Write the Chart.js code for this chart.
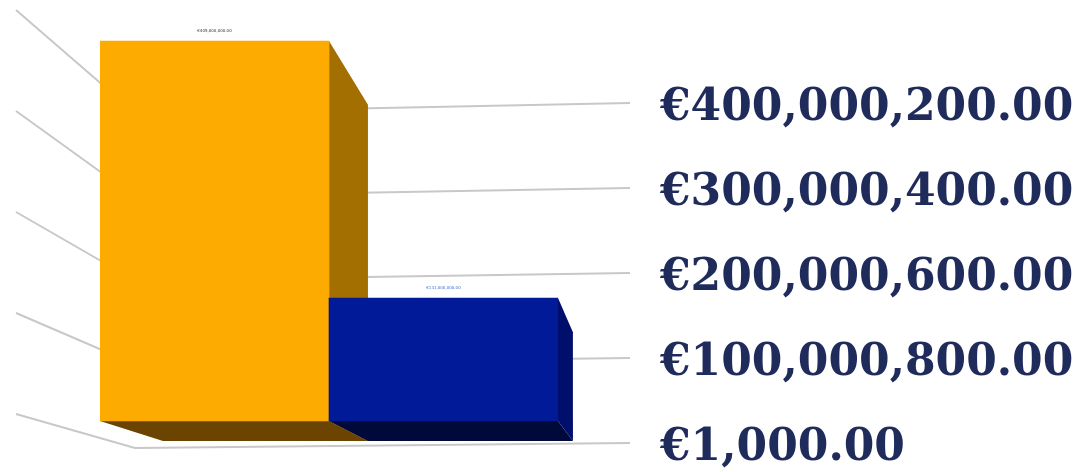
<!DOCTYPE html>
<html>
<head>
<meta charset="utf-8">
<script src="https://cdn.jsdelivr.net/npm/chart.js@4.4.1/dist/chart.umd.min.js"></script>
<style>
	html, body { margin: 0; padding: 0; background: #fff; }
	#wrap { width: 1090px; height: 472px; position: relative; }
</style>
</head>
<body>
<div id="wrap"><canvas id="chart"></canvas></div>
<script>
const categories = [ 'Series 1', 'Series 2' ];
const values = [ 405000000, 131000000 ];
const tickValues = [ 1000, 100000800, 200000600, 300000400, 400000200 ];
const frontColors = [ '#fdab00', '#001a98' ];
const sideColors = [ '#a36f00', '#000f6c' ];
const bottomColors = [ '#6a4400', '#000a3a' ];
const labelColors = [ '#333333', '#3a6fd8' ];

const euro = v => '€' + v.toLocaleString( 'en-US', { minimumFractionDigits: 2, maximumFractionDigits: 2 } );

// depth offset of a point on a bar's front face (perspective look)
const back = ( x, y ) => [ x + 63 - ( x - 100 ) * 0.105, y + 20 + ( 421 - y ) * 0.115 ];

const poly = ( ctx, pts, color ) => {
	ctx.beginPath();
	ctx.moveTo( pts[0][0], pts[0][1] );
	pts.slice( 1 ).forEach( p => ctx.lineTo( p[0], p[1] ) );
	ctx.closePath();
	ctx.fillStyle = color;
	ctx.fill();
};

const depthPlugin = {
	id: 'depth',
	beforeDatasetsDraw( chart ) {
		const ctx = chart.ctx;
		const y = chart.scales.y;
		ctx.save();

		// slanted wall / floor lines
		ctx.strokeStyle = '#c8c8c8';
		ctx.lineWidth = 2;
		tickValues.forEach( t => {
			const py = y.getPixelForValue( t );
			const cornerY = py + 10 - 5 * ( py - 103 ) / 340;
			const leftY = py - ( 29 + 64 * ( 443 - py ) / 340 );
			ctx.beginPath();
			ctx.moveTo( 16, leftY );
			ctx.lineTo( 135, cornerY );
			ctx.lineTo( 630, py );
			ctx.stroke();
		} );

		// side and bottom faces of each bar
		const meta = chart.getDatasetMeta( 0 );
		meta.data.forEach( ( bar, i ) => {
			const l = bar.x - bar.width / 2, r = bar.x + bar.width / 2;
			const top = bar.y, base = bar.base;
			poly( ctx, [ [ l, base ], [ r, base ], back( r, base ), back( l, base ) ], bottomColors[i] );
			poly( ctx, [ [ r, top ], back( r, top ), back( r, base ), [ r, base ] ], sideColors[i] );
		} );
		ctx.restore();
	},
	afterDatasetsDraw( chart ) {
		const ctx = chart.ctx;
		const meta = chart.getDatasetMeta( 0 );
		ctx.save();
		ctx.font = '4px "DejaVu Sans"';
		ctx.textAlign = 'center';
		meta.data.forEach( ( bar, i ) => {
			ctx.fillStyle = labelColors[i];
			ctx.fillText( euro( values[i] ), bar.x, bar.y - 9 );
		} );
		ctx.restore();
	}
};

new Chart( document.getElementById( 'chart' ), {
	type: 'bar',
	data: {
		labels: categories,
		datasets: [
			{
				data: values,
				backgroundColor: frontColors,
				borderWidth: 0,
				categoryPercentage: 1,
				barPercentage: 1,
				yAxisID: 'yb'
			}
		]
	},
	options: {
		responsive: true,
		maintainAspectRatio: false,
		animation: false,
		layout: {
			padding: { left: 100, top: 38, bottom: 29, right: 0 }
		},
		plugins: {
			legend: { display: false },
			tooltip: { enabled: false }
		},
		scales: {
			x: { display: false },
			yb: {
				display: false,
				min: -23450000,
				max: 408200000
			},
			y: {
				position: 'right',
				min: 1000,
				max: 476470635,
				afterBuildTicks: scale => {
					scale.ticks = tickValues.map( v => ( { value: v } ) );
				},
				afterFit: scale => {
					scale.width = 532;
					scale.paddingTop = 0;
					scale.paddingBottom = 0;
				},
				grid: { display: false, drawTicks: false },
				border: { display: false },
				ticks: {
					autoSkip: false,
					padding: 102,
					color: '#1f2b5b',
					font: { family: '"DejaVu Serif"', weight: 'bold', size: 44, lineHeight: 0.24 },
					// empty first line nudges the label a little below its tick
					callback: v => [ '', euro( v ) ]
				}
			}
		}
	},
	plugins: [ depthPlugin ]
} );
</script>
</body>
</html>
